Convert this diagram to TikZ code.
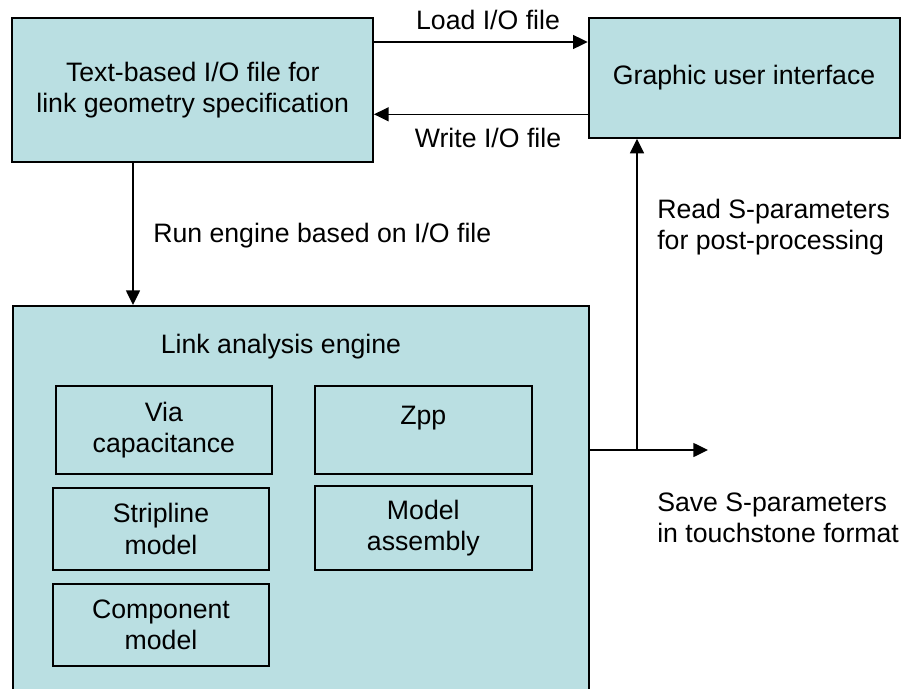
\documentclass[tikz,border=0pt]{standalone}
\usepackage{fontspec}
\setmainfont{Liberation Sans}
\usetikzlibrary{arrows.meta}
\definecolor{boxfill}{RGB}{186,223,226}
\begin{document}
\begin{tikzpicture}[x=0.75pt,y=-0.75pt,
  font=\fontsize{20pt}{23.5pt}\selectfont,
  blk/.style={draw=black,line width=1.5pt,fill=boxfill,inner sep=0pt,align=center},
  sub/.style={blk,minimum width=162.3pt},
  conn/.style={line width=1.1pt,-{Triangle[length=11pt,width=10.5pt]}},
  wire/.style={line width=1.1pt},
  lbl/.style={inner sep=0pt,align=left}]
\useasboundingbox (0,0) rectangle (901,689);

% main blocks
\node[blk,minimum width=270.4pt,minimum height=108pt] (io) at (192.75,90)
  {Text-based I/O file for\\link geometry specification};
\node[blk,minimum width=233.1pt,minimum height=89.8pt] (gui) at (744.1,77.85)
  {Graphic user interface};
\node[blk,minimum width=432.3pt,minimum height=291.75pt] (eng) at (300.8,500.5) {};
\node[inner sep=0pt] (engt) at (281,347) {Link analysis engine};

% engine sub-blocks
\node[sub,minimum height=66pt] (via) at (163.9,430) {Via\\capacitance};
\node[sub,minimum height=66pt] (zpp) at (423.3,430) {Zpp\\[-2pt]~};
\node[sub,minimum height=61.7pt] (strip) at (161,528.9) {Stripline\\model};
\node[sub,minimum height=63pt] (asm) at (423.3,528) {Model\\assembly};
\node[sub,minimum height=61.5pt] (comp) at (161,625) {Component\\model};

% helper coordinates
\coordinate (ly) at (0,42);
\coordinate (wy) at (0,114.3);
\coordinate (rx) at (133,0);
\coordinate (oy) at (0,450);
\coordinate (bx) at (637,0);
\coordinate (outend) at (708,450);
\coordinate (branch) at (bx |- oy);

% connectors
\draw[conn] (io.east |- ly) -- (gui.west |- ly);
\draw[conn] (gui.west |- wy) -- (io.east |- wy);
\draw[conn] (io.south -| rx) -- (eng.north -| rx);
\draw[conn] (eng.east |- oy) -- (outend);
\draw[conn] (branch) -- (gui.south -| bx);

% labels
\node[inner sep=0pt] (lload) at (488,20) {Load I/O file};
\node[inner sep=0pt] (lwrite) at (488,138) {Write I/O file};
\node[lbl,anchor=west] (lrun) at (153,236) {Run engine based on I/O file};
\node[lbl,anchor=west] (lread) at (657,227) {Read S-parameters\\for post-processing};
\node[lbl,anchor=west] (lsave) at (657,517.5) {Save S-parameters\\in touchstone format};
\end{tikzpicture}
\end{document}
